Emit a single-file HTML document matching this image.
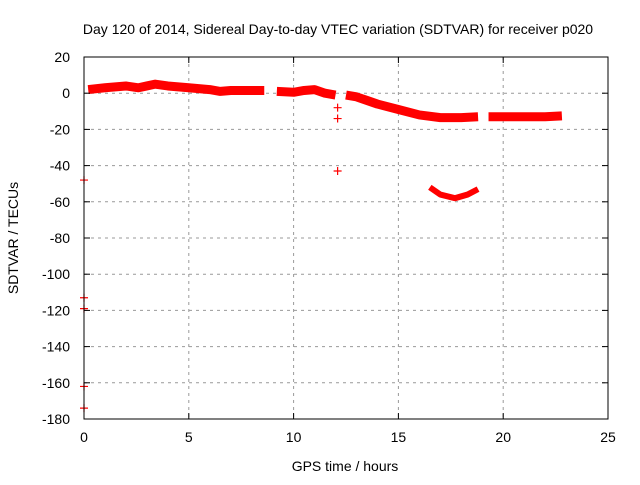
<!DOCTYPE html>
<html><head><meta charset="utf-8"><style>
body{margin:0;background:#fff}
svg text{font-family:"Liberation Sans",sans-serif;font-size:14px;fill:#000}
</style></head><body>
<svg id="chart" width="640" height="480" xmlns="http://www.w3.org/2000/svg">
<text x="338" y="34" text-anchor="middle">Day 120 of 2014, Sidereal Day-to-day VTEC variation (SDTVAR) for receiver p020</text>
<text x="345" y="471" text-anchor="middle">GPS time / hours</text>
<text transform="translate(18,238) rotate(-90)" text-anchor="middle">SDTVAR / TECUs</text>
<g id="grid"></g><g id="marks"></g>
<rect x="84" y="57" width="524" height="362" fill="none" stroke="#000" stroke-width="1"/>
<g id="ticks"></g>
</svg>
<script>
const xTicks=[0,5,10,15,20,25];
const yTicks=[20,0,-20,-40,-60,-80,-100,-120,-140,-160,-180];
const seg1Hours=[0.2,1,2,2.6,3,3.4,4,5,6,6.5,7,8,8.6];
const seg1Values=[2,3,4,3,4,5,4,3,2,1,1.5,1.5,1.5];
const seg2Hours=[9.2,10,10.5,11,11.5,12];
const seg2Values=[1,0.5,1.5,2,0,-1];
const seg3Hours=[12.5,13,13.5,14,15,16,17,18,18.8];
const seg3Values=[-1,-2,-4,-6,-9,-12,-13.5,-13.5,-13];
const seg4Hours=[19.3,20,21,22,22.8];
const seg4Values=[-13,-13,-13,-13,-12.5];
const arcHours=[16.5,17,17.7,18.3,18.8];
const arcValues=[-52,-56,-58,-56,-53];
const outHours=[12.1,12.1,12.1,0,0,0,0,0];
const outValues=[-8,-14,-43,-48,-113,-119,-162,-174];
const X=h=>84+h*524/25, Y=v=>57+(20-v)*362/200;
const NS="http://www.w3.org/2000/svg";
const grid=document.getElementById('grid'),ticks=document.getElementById('ticks'),marks=document.getElementById('marks');
function mk(tag,at,par){const e=document.createElementNS(NS,tag);for(const k in at)e.setAttribute(k,at[k]);par.appendChild(e);return e;}
xTicks.forEach(t=>{
 if(t>0&&t<25){const g=mk('line',{x1:X(t),x2:X(t),y1:57,y2:419,stroke:'#999','stroke-dasharray':'3,4'},grid);
 
 }
 mk('line',{x1:X(t),x2:X(t),y1:419,y2:413,stroke:'#000'},ticks);
 mk('line',{x1:X(t),x2:X(t),y1:57,y2:63,stroke:'#000'},ticks);
 const l=mk('text',{x:X(t),y:442,'text-anchor':'middle'},ticks);l.textContent=t;
 
 
});
yTicks.forEach(t=>{
 if(t<20&&t>-180){const g=mk('line',{x1:84,x2:608,y1:Y(t),y2:Y(t),stroke:'#999','stroke-dasharray':'3,4'},grid);
 
 }
 mk('line',{x1:84,x2:90,y1:Y(t),y2:Y(t),stroke:'#000'},ticks);
 mk('line',{x1:608,x2:602,y1:Y(t),y2:Y(t),stroke:'#000'},ticks);
 const l=mk('text',{x:70,y:Y(t)+5,'text-anchor':'end'},ticks);l.textContent=t;
 
 
});
function seg(hs,vs,w,name){
 const p=mk('polyline',{points:hs.map((h,i)=>X(h)+','+Y(vs[i])).join(' '),fill:'none',stroke:'#f00','stroke-width':w,'stroke-linejoin':'round'},marks);
 
 
}
seg(seg1Hours,seg1Values,9,'series-segment-1');
seg(seg2Hours,seg2Values,9,'series-segment-2');
seg(seg3Hours,seg3Values,9,'series-segment-3');
seg(seg4Hours,seg4Values,9,'series-segment-4');
seg(arcHours,arcValues,6,'series-arc');
outHours.forEach((h,i)=>{
 const x=X(h),y=Y(outValues[i]);
 const p=mk('path',{d:`M${x-4},${y}H${x+4}M${x},${y-4}V${y+4}`,stroke:'#f00','stroke-width':1.2},marks);
 
 
});
</script>
</body></html>
